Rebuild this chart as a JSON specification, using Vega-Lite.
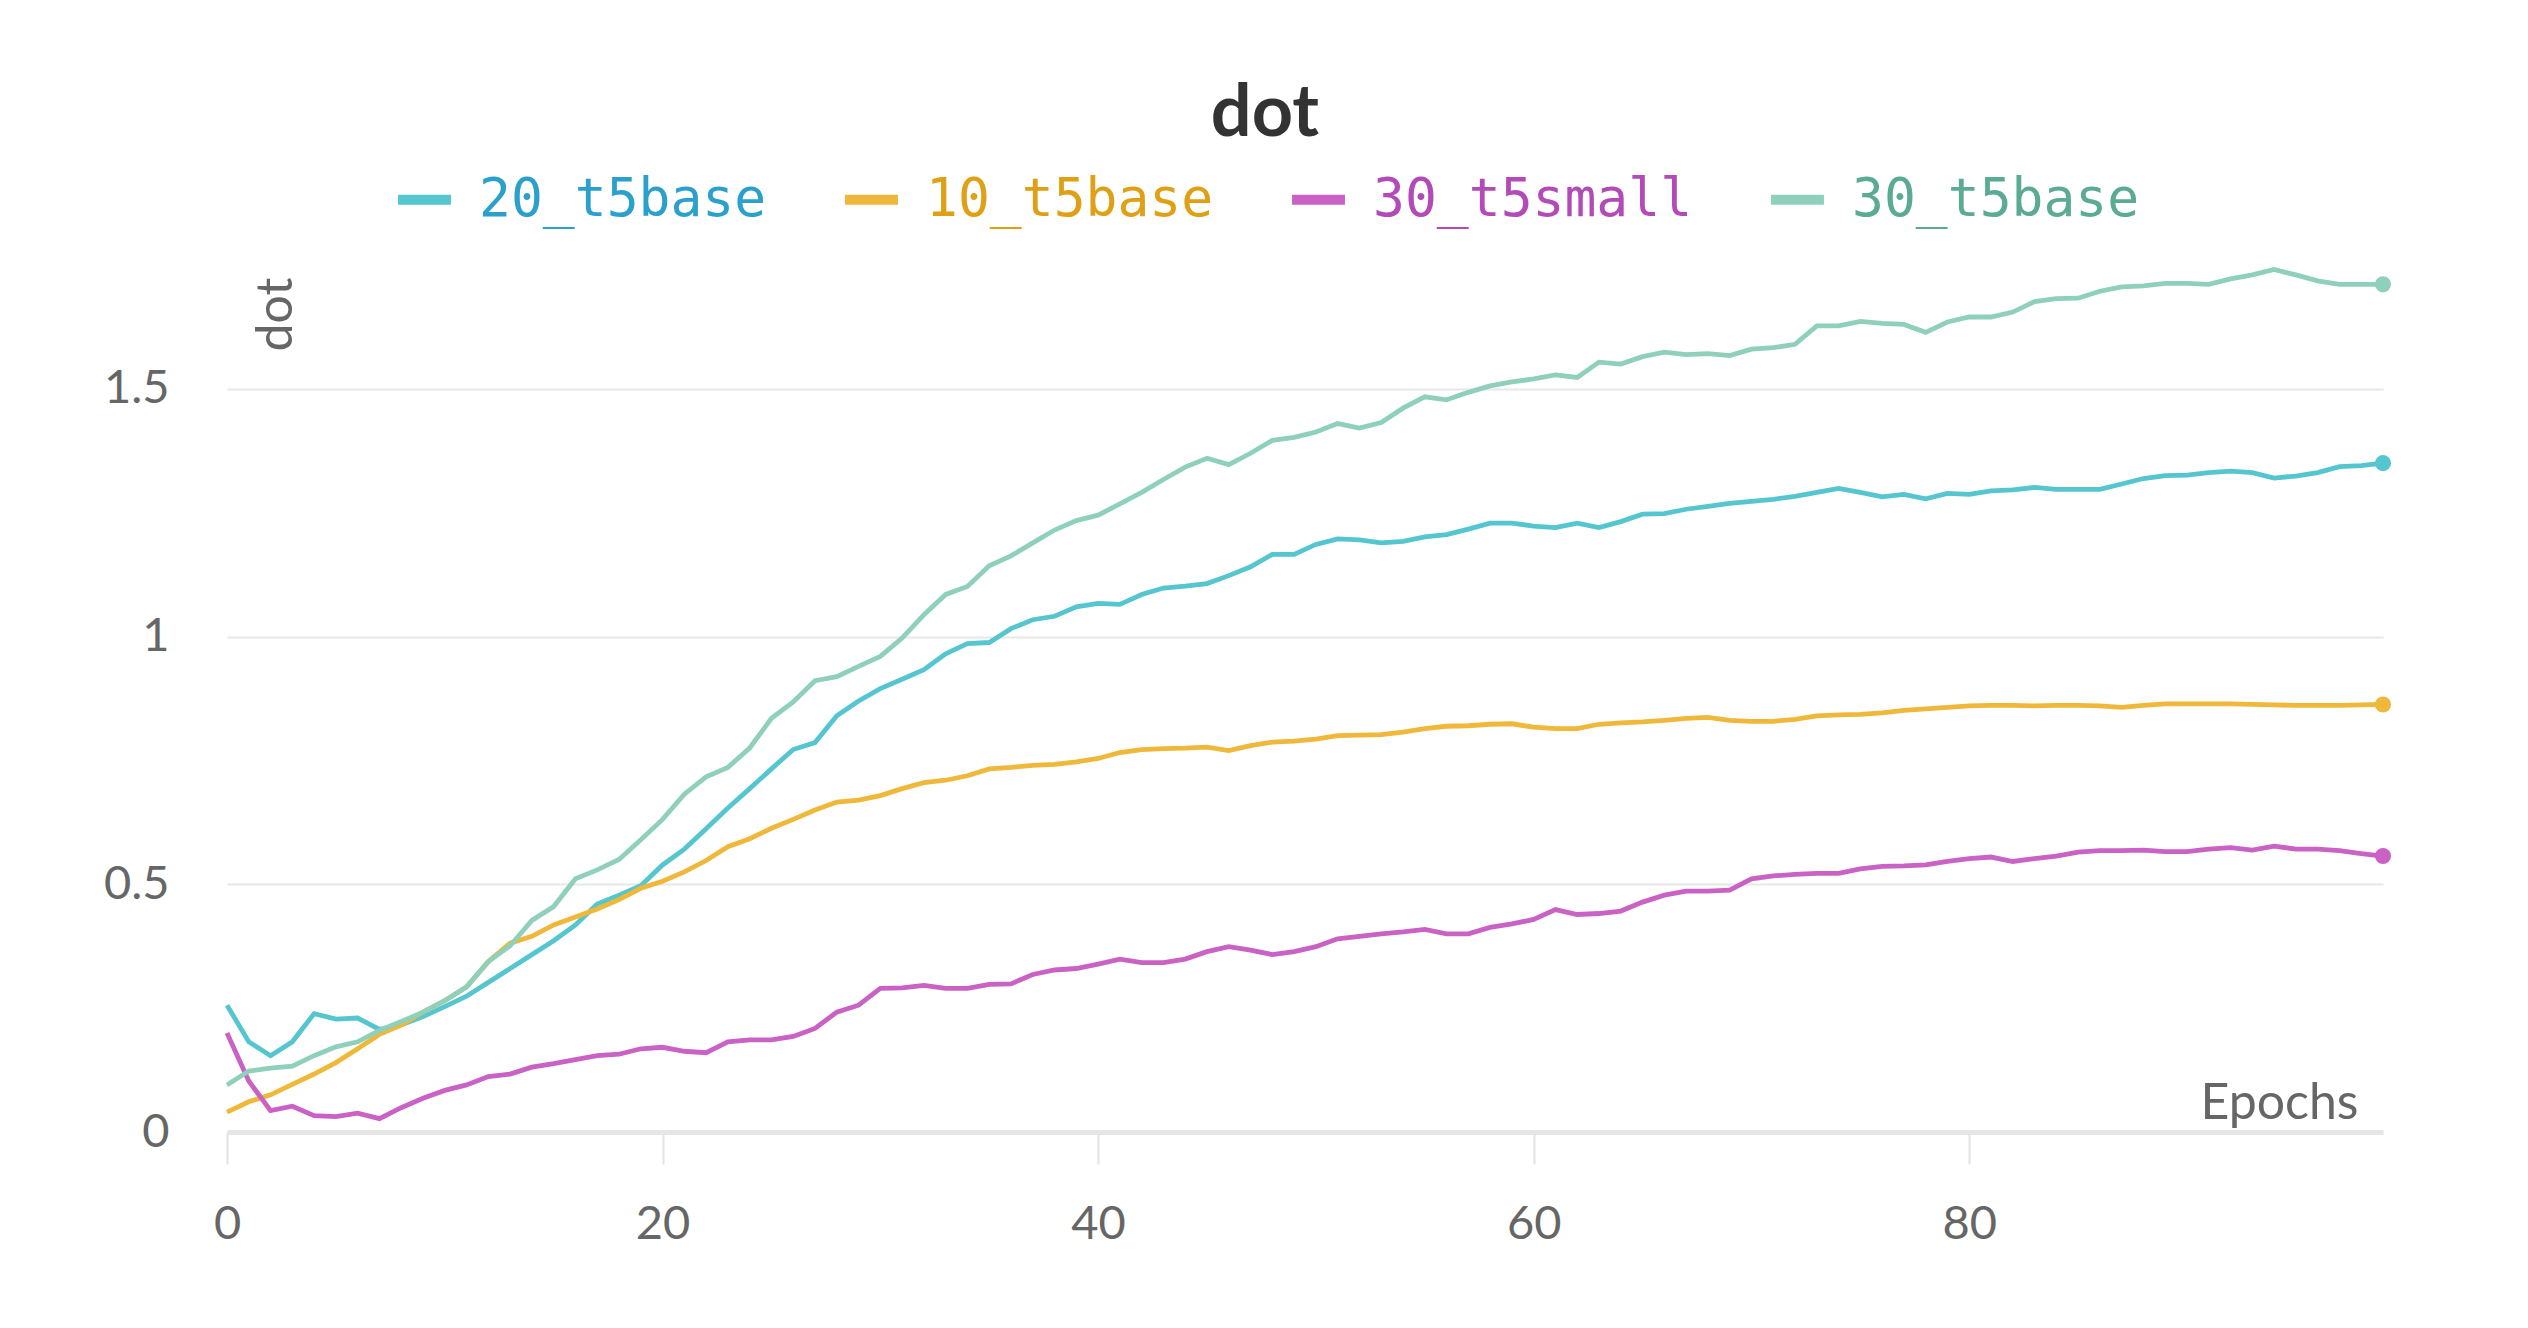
{
"$schema": "https://vega.github.io/schema/vega-lite/v6.json",
"width": 2156, "height": 867,
"autosize": {"type": "none"},
"padding": {"left": 227, "top": 265, "right": 145, "bottom": 196},
"background": "white",
"title": {"text": "dot", "font": "Lato", "fontSize": 72, "fontWeight": "bold", "color": "#333333", "anchor": "middle", "frame": "group", "dx": -40, "offset": 17},
"config": {"view": {"stroke": null}},
"datasets": {
"runs": [
{"run":"20_t5base","epoch":0,"dot":0.256},{"run":"20_t5base","epoch":1,"dot":0.182},{"run":"20_t5base","epoch":2,"dot":0.154},{"run":"20_t5base","epoch":3,"dot":0.182},{"run":"20_t5base","epoch":4,"dot":0.239},{"run":"20_t5base","epoch":5,"dot":0.228},{"run":"20_t5base","epoch":6,"dot":0.230},{"run":"20_t5base","epoch":7,"dot":0.207},{"run":"20_t5base","epoch":8,"dot":0.216},{"run":"20_t5base","epoch":9,"dot":0.233},
{"run":"20_t5base","epoch":10,"dot":0.253},{"run":"20_t5base","epoch":11,"dot":0.274},{"run":"20_t5base","epoch":12,"dot":0.302},{"run":"20_t5base","epoch":13,"dot":0.330},{"run":"20_t5base","epoch":14,"dot":0.358},{"run":"20_t5base","epoch":15,"dot":0.386},{"run":"20_t5base","epoch":16,"dot":0.418},{"run":"20_t5base","epoch":17,"dot":0.460},{"run":"20_t5base","epoch":18,"dot":0.478},{"run":"20_t5base","epoch":19,"dot":0.497},
{"run":"20_t5base","epoch":20,"dot":0.539},{"run":"20_t5base","epoch":21,"dot":0.571},{"run":"20_t5base","epoch":22,"dot":0.612},{"run":"20_t5base","epoch":23,"dot":0.654},{"run":"20_t5base","epoch":24,"dot":0.693},{"run":"20_t5base","epoch":25,"dot":0.733},{"run":"20_t5base","epoch":26,"dot":0.772},{"run":"20_t5base","epoch":27,"dot":0.786},{"run":"20_t5base","epoch":28,"dot":0.840},{"run":"20_t5base","epoch":29,"dot":0.870},
{"run":"20_t5base","epoch":30,"dot":0.895},{"run":"20_t5base","epoch":31,"dot":0.914},{"run":"20_t5base","epoch":32,"dot":0.933},{"run":"20_t5base","epoch":33,"dot":0.965},{"run":"20_t5base","epoch":34,"dot":0.986},{"run":"20_t5base","epoch":35,"dot":0.988},{"run":"20_t5base","epoch":36,"dot":1.016},{"run":"20_t5base","epoch":37,"dot":1.034},{"run":"20_t5base","epoch":38,"dot":1.041},{"run":"20_t5base","epoch":39,"dot":1.060},
{"run":"20_t5base","epoch":40,"dot":1.067},{"run":"20_t5base","epoch":41,"dot":1.065},{"run":"20_t5base","epoch":42,"dot":1.085},{"run":"20_t5base","epoch":43,"dot":1.098},{"run":"20_t5base","epoch":44,"dot":1.102},{"run":"20_t5base","epoch":45,"dot":1.107},{"run":"20_t5base","epoch":46,"dot":1.123},{"run":"20_t5base","epoch":47,"dot":1.141},{"run":"20_t5base","epoch":48,"dot":1.166},{"run":"20_t5base","epoch":49,"dot":1.166},
{"run":"20_t5base","epoch":50,"dot":1.186},{"run":"20_t5base","epoch":51,"dot":1.197},{"run":"20_t5base","epoch":52,"dot":1.195},{"run":"20_t5base","epoch":53,"dot":1.189},{"run":"20_t5base","epoch":54,"dot":1.192},{"run":"20_t5base","epoch":55,"dot":1.201},{"run":"20_t5base","epoch":56,"dot":1.206},{"run":"20_t5base","epoch":57,"dot":1.217},{"run":"20_t5base","epoch":58,"dot":1.229},{"run":"20_t5base","epoch":59,"dot":1.229},
{"run":"20_t5base","epoch":60,"dot":1.223},{"run":"20_t5base","epoch":61,"dot":1.220},{"run":"20_t5base","epoch":62,"dot":1.229},{"run":"20_t5base","epoch":63,"dot":1.220},{"run":"20_t5base","epoch":64,"dot":1.232},{"run":"20_t5base","epoch":65,"dot":1.247},{"run":"20_t5base","epoch":66,"dot":1.248},{"run":"20_t5base","epoch":67,"dot":1.257},{"run":"20_t5base","epoch":68,"dot":1.263},{"run":"20_t5base","epoch":69,"dot":1.269},
{"run":"20_t5base","epoch":70,"dot":1.273},{"run":"20_t5base","epoch":71,"dot":1.277},{"run":"20_t5base","epoch":72,"dot":1.283},{"run":"20_t5base","epoch":73,"dot":1.291},{"run":"20_t5base","epoch":74,"dot":1.299},{"run":"20_t5base","epoch":75,"dot":1.291},{"run":"20_t5base","epoch":76,"dot":1.282},{"run":"20_t5base","epoch":77,"dot":1.287},{"run":"20_t5base","epoch":78,"dot":1.278},{"run":"20_t5base","epoch":79,"dot":1.289},
{"run":"20_t5base","epoch":80,"dot":1.287},{"run":"20_t5base","epoch":81,"dot":1.294},{"run":"20_t5base","epoch":82,"dot":1.296},{"run":"20_t5base","epoch":83,"dot":1.301},{"run":"20_t5base","epoch":84,"dot":1.297},{"run":"20_t5base","epoch":85,"dot":1.297},{"run":"20_t5base","epoch":86,"dot":1.297},{"run":"20_t5base","epoch":87,"dot":1.308},{"run":"20_t5base","epoch":88,"dot":1.319},{"run":"20_t5base","epoch":89,"dot":1.325},
{"run":"20_t5base","epoch":90,"dot":1.326},{"run":"20_t5base","epoch":91,"dot":1.331},{"run":"20_t5base","epoch":92,"dot":1.334},{"run":"20_t5base","epoch":93,"dot":1.331},{"run":"20_t5base","epoch":94,"dot":1.320},{"run":"20_t5base","epoch":95,"dot":1.324},{"run":"20_t5base","epoch":96,"dot":1.331},{"run":"20_t5base","epoch":97,"dot":1.343},{"run":"20_t5base","epoch":98,"dot":1.345},{"run":"20_t5base","epoch":99,"dot":1.350},
{"run":"10_t5base","epoch":0,"dot":0.040},{"run":"10_t5base","epoch":1,"dot":0.061},{"run":"10_t5base","epoch":2,"dot":0.075},{"run":"10_t5base","epoch":3,"dot":0.096},{"run":"10_t5base","epoch":4,"dot":0.117},{"run":"10_t5base","epoch":5,"dot":0.140},{"run":"10_t5base","epoch":6,"dot":0.168},{"run":"10_t5base","epoch":7,"dot":0.197},{"run":"10_t5base","epoch":8,"dot":0.216},{"run":"10_t5base","epoch":9,"dot":0.242},
{"run":"10_t5base","epoch":10,"dot":0.265},{"run":"10_t5base","epoch":11,"dot":0.293},{"run":"10_t5base","epoch":12,"dot":0.344},{"run":"10_t5base","epoch":13,"dot":0.381},{"run":"10_t5base","epoch":14,"dot":0.395},{"run":"10_t5base","epoch":15,"dot":0.418},{"run":"10_t5base","epoch":16,"dot":0.434},{"run":"10_t5base","epoch":17,"dot":0.450},{"run":"10_t5base","epoch":18,"dot":0.469},{"run":"10_t5base","epoch":19,"dot":0.492},
{"run":"10_t5base","epoch":20,"dot":0.506},{"run":"10_t5base","epoch":21,"dot":0.525},{"run":"10_t5base","epoch":22,"dot":0.548},{"run":"10_t5base","epoch":23,"dot":0.576},{"run":"10_t5base","epoch":24,"dot":0.592},{"run":"10_t5base","epoch":25,"dot":0.613},{"run":"10_t5base","epoch":26,"dot":0.631},{"run":"10_t5base","epoch":27,"dot":0.650},{"run":"10_t5base","epoch":28,"dot":0.666},{"run":"10_t5base","epoch":29,"dot":0.670},
{"run":"10_t5base","epoch":30,"dot":0.679},{"run":"10_t5base","epoch":31,"dot":0.693},{"run":"10_t5base","epoch":32,"dot":0.705},{"run":"10_t5base","epoch":33,"dot":0.710},{"run":"10_t5base","epoch":34,"dot":0.719},{"run":"10_t5base","epoch":35,"dot":0.733},{"run":"10_t5base","epoch":36,"dot":0.736},{"run":"10_t5base","epoch":37,"dot":0.740},{"run":"10_t5base","epoch":38,"dot":0.742},{"run":"10_t5base","epoch":39,"dot":0.747},
{"run":"10_t5base","epoch":40,"dot":0.754},{"run":"10_t5base","epoch":41,"dot":0.766},{"run":"10_t5base","epoch":42,"dot":0.772},{"run":"10_t5base","epoch":43,"dot":0.774},{"run":"10_t5base","epoch":44,"dot":0.775},{"run":"10_t5base","epoch":45,"dot":0.777},{"run":"10_t5base","epoch":46,"dot":0.770},{"run":"10_t5base","epoch":47,"dot":0.780},{"run":"10_t5base","epoch":48,"dot":0.787},{"run":"10_t5base","epoch":49,"dot":0.789},
{"run":"10_t5base","epoch":50,"dot":0.793},{"run":"10_t5base","epoch":51,"dot":0.800},{"run":"10_t5base","epoch":52,"dot":0.801},{"run":"10_t5base","epoch":53,"dot":0.802},{"run":"10_t5base","epoch":54,"dot":0.807},{"run":"10_t5base","epoch":55,"dot":0.814},{"run":"10_t5base","epoch":56,"dot":0.819},{"run":"10_t5base","epoch":57,"dot":0.820},{"run":"10_t5base","epoch":58,"dot":0.823},{"run":"10_t5base","epoch":59,"dot":0.824},
{"run":"10_t5base","epoch":60,"dot":0.817},{"run":"10_t5base","epoch":61,"dot":0.814},{"run":"10_t5base","epoch":62,"dot":0.814},{"run":"10_t5base","epoch":63,"dot":0.823},{"run":"10_t5base","epoch":64,"dot":0.826},{"run":"10_t5base","epoch":65,"dot":0.828},{"run":"10_t5base","epoch":66,"dot":0.831},{"run":"10_t5base","epoch":67,"dot":0.835},{"run":"10_t5base","epoch":68,"dot":0.837},{"run":"10_t5base","epoch":69,"dot":0.831},
{"run":"10_t5base","epoch":70,"dot":0.829},{"run":"10_t5base","epoch":71,"dot":0.829},{"run":"10_t5base","epoch":72,"dot":0.833},{"run":"10_t5base","epoch":73,"dot":0.840},{"run":"10_t5base","epoch":74,"dot":0.842},{"run":"10_t5base","epoch":75,"dot":0.843},{"run":"10_t5base","epoch":76,"dot":0.846},{"run":"10_t5base","epoch":77,"dot":0.851},{"run":"10_t5base","epoch":78,"dot":0.854},{"run":"10_t5base","epoch":79,"dot":0.857},
{"run":"10_t5base","epoch":80,"dot":0.860},{"run":"10_t5base","epoch":81,"dot":0.861},{"run":"10_t5base","epoch":82,"dot":0.861},{"run":"10_t5base","epoch":83,"dot":0.860},{"run":"10_t5base","epoch":84,"dot":0.861},{"run":"10_t5base","epoch":85,"dot":0.861},{"run":"10_t5base","epoch":86,"dot":0.860},{"run":"10_t5base","epoch":87,"dot":0.857},{"run":"10_t5base","epoch":88,"dot":0.861},{"run":"10_t5base","epoch":89,"dot":0.864},
{"run":"10_t5base","epoch":90,"dot":0.864},{"run":"10_t5base","epoch":91,"dot":0.864},{"run":"10_t5base","epoch":92,"dot":0.864},{"run":"10_t5base","epoch":93,"dot":0.863},{"run":"10_t5base","epoch":94,"dot":0.862},{"run":"10_t5base","epoch":95,"dot":0.861},{"run":"10_t5base","epoch":96,"dot":0.861},{"run":"10_t5base","epoch":97,"dot":0.861},{"run":"10_t5base","epoch":98,"dot":0.862},{"run":"10_t5base","epoch":99,"dot":0.863},
{"run":"30_t5small","epoch":0,"dot":0.200},{"run":"30_t5small","epoch":1,"dot":0.103},{"run":"30_t5small","epoch":2,"dot":0.043},{"run":"30_t5small","epoch":3,"dot":0.052},{"run":"30_t5small","epoch":4,"dot":0.033},{"run":"30_t5small","epoch":5,"dot":0.031},{"run":"30_t5small","epoch":6,"dot":0.038},{"run":"30_t5small","epoch":7,"dot":0.027},{"run":"30_t5small","epoch":8,"dot":0.049},{"run":"30_t5small","epoch":9,"dot":0.068},
{"run":"30_t5small","epoch":10,"dot":0.084},{"run":"30_t5small","epoch":11,"dot":0.095},{"run":"30_t5small","epoch":12,"dot":0.112},{"run":"30_t5small","epoch":13,"dot":0.117},{"run":"30_t5small","epoch":14,"dot":0.131},{"run":"30_t5small","epoch":15,"dot":0.138},{"run":"30_t5small","epoch":16,"dot":0.146},{"run":"30_t5small","epoch":17,"dot":0.154},{"run":"30_t5small","epoch":18,"dot":0.157},{"run":"30_t5small","epoch":19,"dot":0.168},
{"run":"30_t5small","epoch":20,"dot":0.171},{"run":"30_t5small","epoch":21,"dot":0.163},{"run":"30_t5small","epoch":22,"dot":0.160},{"run":"30_t5small","epoch":23,"dot":0.182},{"run":"30_t5small","epoch":24,"dot":0.186},{"run":"30_t5small","epoch":25,"dot":0.186},{"run":"30_t5small","epoch":26,"dot":0.193},{"run":"30_t5small","epoch":27,"dot":0.209},{"run":"30_t5small","epoch":28,"dot":0.242},{"run":"30_t5small","epoch":29,"dot":0.256},
{"run":"30_t5small","epoch":30,"dot":0.290},{"run":"30_t5small","epoch":31,"dot":0.291},{"run":"30_t5small","epoch":32,"dot":0.296},{"run":"30_t5small","epoch":33,"dot":0.290},{"run":"30_t5small","epoch":34,"dot":0.290},{"run":"30_t5small","epoch":35,"dot":0.298},{"run":"30_t5small","epoch":36,"dot":0.299},{"run":"30_t5small","epoch":37,"dot":0.318},{"run":"30_t5small","epoch":38,"dot":0.327},{"run":"30_t5small","epoch":39,"dot":0.330},
{"run":"30_t5small","epoch":40,"dot":0.339},{"run":"30_t5small","epoch":41,"dot":0.349},{"run":"30_t5small","epoch":42,"dot":0.342},{"run":"30_t5small","epoch":43,"dot":0.342},{"run":"30_t5small","epoch":44,"dot":0.349},{"run":"30_t5small","epoch":45,"dot":0.364},{"run":"30_t5small","epoch":46,"dot":0.374},{"run":"30_t5small","epoch":47,"dot":0.367},{"run":"30_t5small","epoch":48,"dot":0.358},{"run":"30_t5small","epoch":49,"dot":0.364},
{"run":"30_t5small","epoch":50,"dot":0.374},{"run":"30_t5small","epoch":51,"dot":0.390},{"run":"30_t5small","epoch":52,"dot":0.395},{"run":"30_t5small","epoch":53,"dot":0.400},{"run":"30_t5small","epoch":54,"dot":0.404},{"run":"30_t5small","epoch":55,"dot":0.409},{"run":"30_t5small","epoch":56,"dot":0.400},{"run":"30_t5small","epoch":57,"dot":0.400},{"run":"30_t5small","epoch":58,"dot":0.413},{"run":"30_t5small","epoch":59,"dot":0.420},
{"run":"30_t5small","epoch":60,"dot":0.429},{"run":"30_t5small","epoch":61,"dot":0.449},{"run":"30_t5small","epoch":62,"dot":0.439},{"run":"30_t5small","epoch":63,"dot":0.441},{"run":"30_t5small","epoch":64,"dot":0.446},{"run":"30_t5small","epoch":65,"dot":0.464},{"run":"30_t5small","epoch":66,"dot":0.478},{"run":"30_t5small","epoch":67,"dot":0.486},{"run":"30_t5small","epoch":68,"dot":0.486},{"run":"30_t5small","epoch":69,"dot":0.488},
{"run":"30_t5small","epoch":70,"dot":0.511},{"run":"30_t5small","epoch":71,"dot":0.517},{"run":"30_t5small","epoch":72,"dot":0.520},{"run":"30_t5small","epoch":73,"dot":0.522},{"run":"30_t5small","epoch":74,"dot":0.522},{"run":"30_t5small","epoch":75,"dot":0.531},{"run":"30_t5small","epoch":76,"dot":0.536},{"run":"30_t5small","epoch":77,"dot":0.537},{"run":"30_t5small","epoch":78,"dot":0.539},{"run":"30_t5small","epoch":79,"dot":0.546},
{"run":"30_t5small","epoch":80,"dot":0.552},{"run":"30_t5small","epoch":81,"dot":0.555},{"run":"30_t5small","epoch":82,"dot":0.546},{"run":"30_t5small","epoch":83,"dot":0.552},{"run":"30_t5small","epoch":84,"dot":0.557},{"run":"30_t5small","epoch":85,"dot":0.565},{"run":"30_t5small","epoch":86,"dot":0.568},{"run":"30_t5small","epoch":87,"dot":0.568},{"run":"30_t5small","epoch":88,"dot":0.569},{"run":"30_t5small","epoch":89,"dot":0.566},
{"run":"30_t5small","epoch":90,"dot":0.566},{"run":"30_t5small","epoch":91,"dot":0.571},{"run":"30_t5small","epoch":92,"dot":0.574},{"run":"30_t5small","epoch":93,"dot":0.569},{"run":"30_t5small","epoch":94,"dot":0.577},{"run":"30_t5small","epoch":95,"dot":0.571},{"run":"30_t5small","epoch":96,"dot":0.571},{"run":"30_t5small","epoch":97,"dot":0.568},{"run":"30_t5small","epoch":98,"dot":0.562},{"run":"30_t5small","epoch":99,"dot":0.557},
{"run":"30_t5base","epoch":0,"dot":0.095},{"run":"30_t5base","epoch":1,"dot":0.123},{"run":"30_t5base","epoch":2,"dot":0.129},{"run":"30_t5base","epoch":3,"dot":0.133},{"run":"30_t5base","epoch":4,"dot":0.154},{"run":"30_t5base","epoch":5,"dot":0.172},{"run":"30_t5base","epoch":6,"dot":0.182},{"run":"30_t5base","epoch":7,"dot":0.205},{"run":"30_t5base","epoch":8,"dot":0.223},{"run":"30_t5base","epoch":9,"dot":0.242},
{"run":"30_t5base","epoch":10,"dot":0.265},{"run":"30_t5base","epoch":11,"dot":0.293},{"run":"30_t5base","epoch":12,"dot":0.344},{"run":"30_t5base","epoch":13,"dot":0.376},{"run":"30_t5base","epoch":14,"dot":0.427},{"run":"30_t5base","epoch":15,"dot":0.455},{"run":"30_t5base","epoch":16,"dot":0.511},{"run":"30_t5base","epoch":17,"dot":0.529},{"run":"30_t5base","epoch":18,"dot":0.550},{"run":"30_t5base","epoch":19,"dot":0.590},
{"run":"30_t5base","epoch":20,"dot":0.631},{"run":"30_t5base","epoch":21,"dot":0.682},{"run":"30_t5base","epoch":22,"dot":0.717},{"run":"30_t5base","epoch":23,"dot":0.736},{"run":"30_t5base","epoch":24,"dot":0.775},{"run":"30_t5base","epoch":25,"dot":0.835},{"run":"30_t5base","epoch":26,"dot":0.868},{"run":"30_t5base","epoch":27,"dot":0.911},{"run":"30_t5base","epoch":28,"dot":0.919},{"run":"30_t5base","epoch":29,"dot":0.940},
{"run":"30_t5base","epoch":30,"dot":0.960},{"run":"30_t5base","epoch":31,"dot":0.997},{"run":"30_t5base","epoch":32,"dot":1.044},{"run":"30_t5base","epoch":33,"dot":1.085},{"run":"30_t5base","epoch":34,"dot":1.101},{"run":"30_t5base","epoch":35,"dot":1.143},{"run":"30_t5base","epoch":36,"dot":1.163},{"run":"30_t5base","epoch":37,"dot":1.189},{"run":"30_t5base","epoch":38,"dot":1.215},{"run":"30_t5base","epoch":39,"dot":1.234},
{"run":"30_t5base","epoch":40,"dot":1.245},{"run":"30_t5base","epoch":41,"dot":1.268},{"run":"30_t5base","epoch":42,"dot":1.291},{"run":"30_t5base","epoch":43,"dot":1.317},{"run":"30_t5base","epoch":44,"dot":1.342},{"run":"30_t5base","epoch":45,"dot":1.360},{"run":"30_t5base","epoch":46,"dot":1.347},{"run":"30_t5base","epoch":47,"dot":1.370},{"run":"30_t5base","epoch":48,"dot":1.396},{"run":"30_t5base","epoch":49,"dot":1.402},
{"run":"30_t5base","epoch":50,"dot":1.413},{"run":"30_t5base","epoch":51,"dot":1.430},{"run":"30_t5base","epoch":52,"dot":1.421},{"run":"30_t5base","epoch":53,"dot":1.432},{"run":"30_t5base","epoch":54,"dot":1.461},{"run":"30_t5base","epoch":55,"dot":1.484},{"run":"30_t5base","epoch":56,"dot":1.478},{"run":"30_t5base","epoch":57,"dot":1.493},{"run":"30_t5base","epoch":58,"dot":1.506},{"run":"30_t5base","epoch":59,"dot":1.514},
{"run":"30_t5base","epoch":60,"dot":1.520},{"run":"30_t5base","epoch":61,"dot":1.528},{"run":"30_t5base","epoch":62,"dot":1.523},{"run":"30_t5base","epoch":63,"dot":1.554},{"run":"30_t5base","epoch":64,"dot":1.550},{"run":"30_t5base","epoch":65,"dot":1.565},{"run":"30_t5base","epoch":66,"dot":1.574},{"run":"30_t5base","epoch":67,"dot":1.569},{"run":"30_t5base","epoch":68,"dot":1.571},{"run":"30_t5base","epoch":69,"dot":1.567},
{"run":"30_t5base","epoch":70,"dot":1.580},{"run":"30_t5base","epoch":71,"dot":1.583},{"run":"30_t5base","epoch":72,"dot":1.590},{"run":"30_t5base","epoch":73,"dot":1.627},{"run":"30_t5base","epoch":74,"dot":1.627},{"run":"30_t5base","epoch":75,"dot":1.636},{"run":"30_t5base","epoch":76,"dot":1.632},{"run":"30_t5base","epoch":77,"dot":1.630},{"run":"30_t5base","epoch":78,"dot":1.614},{"run":"30_t5base","epoch":79,"dot":1.635},
{"run":"30_t5base","epoch":80,"dot":1.645},{"run":"30_t5base","epoch":81,"dot":1.645},{"run":"30_t5base","epoch":82,"dot":1.655},{"run":"30_t5base","epoch":83,"dot":1.676},{"run":"30_t5base","epoch":84,"dot":1.682},{"run":"30_t5base","epoch":85,"dot":1.683},{"run":"30_t5base","epoch":86,"dot":1.697},{"run":"30_t5base","epoch":87,"dot":1.706},{"run":"30_t5base","epoch":88,"dot":1.708},{"run":"30_t5base","epoch":89,"dot":1.713},
{"run":"30_t5base","epoch":90,"dot":1.713},{"run":"30_t5base","epoch":91,"dot":1.711},{"run":"30_t5base","epoch":92,"dot":1.722},{"run":"30_t5base","epoch":93,"dot":1.730},{"run":"30_t5base","epoch":94,"dot":1.741},{"run":"30_t5base","epoch":95,"dot":1.730},{"run":"30_t5base","epoch":96,"dot":1.718},{"run":"30_t5base","epoch":97,"dot":1.711},{"run":"30_t5base","epoch":98,"dot":1.711},{"run":"30_t5base","epoch":99,"dot":1.711}
]},
"data": {"name": "runs"},
"encoding": {
  "x": {"field": "epoch", "type": "quantitative", "title": "Epochs",
    "scale": {"domain": [0, 99], "nice": false, "zero": false},
    "axis": {"values": [0, 20, 40, 60, 80], "grid": false, "domain": true, "domainColor": "#e6e6e6", "domainWidth": 5,
      "ticks": true, "tickColor": "#e3e3e3", "tickWidth": 2, "tickSize": 32, "labelFlush": false,
      "labelFont": "Lato", "labelFontSize": 47, "labelColor": "#666666", "labelPadding": 37,
      "titleFont": "Lato", "titleFontSize": 50, "titleFontWeight": "normal", "titleColor": "#666666",
      "titleAnchor": null, "titleAlign": "right", "titleBaseline": "alphabetic", "titleX": 2131, "titleY": -14}},
  "y": {"field": "dot", "type": "quantitative", "title": "dot",
    "scale": {"domain": [0, 1.75], "nice": false},
    "axis": {"values": [0, 0.5, 1, 1.5], "labelExpr": "'' + datum.value", "domain": false, "ticks": false,
      "grid": true, "gridColor": "#e8e8e8", "gridWidth": 2,
      "labelFont": "Lato", "labelFontSize": 47, "labelColor": "#666666", "labelPadding": 58,
      "titleFont": "Lato", "titleFontSize": 50, "titleFontWeight": "normal", "titleColor": "#666666",
      "titleAngle": -90, "titleAnchor": null, "titleAlign": "center", "titleBaseline": "alphabetic", "titleX": 64, "titleY": 49}},
  "color": {"field": "run", "type": "nominal",
    "scale": {"domain": ["20_t5base", "10_t5base", "30_t5small", "30_t5base"], "range": ["#55c6cf", "#f0b83a", "#c962c4", "#8fd0bd"]},
    "legend": {"title": null, "orient": "none", "direction": "horizontal", "legendX": 166, "legendY": -97,
      "symbolType": "stroke", "symbolSize": 2800, "symbolStrokeWidth": 10, "symbolOpacity": 1,
      "labelFont": "DejaVu Sans Mono", "labelFontSize": 53, "labelOffset": 23, "columnPadding": 58, "labelLimit": 0,
      "encode": {"labels": {"update": {"fill": {"signal": "datum.value === '20_t5base' ? '#2ba0cd' : datum.value === '10_t5base' ? '#e0a015' : datum.value === '30_t5small' ? '#b24ab8' : '#5aaa94'"}}}}}}
},
"layer": [
  {"mark": {"type": "line", "strokeWidth": 4.8, "interpolate": "linear"}},
  {"transform": [{"filter": "datum.epoch === 99"}], "mark": {"type": "point", "filled": true, "size": 260, "opacity": 1}}
]
}
